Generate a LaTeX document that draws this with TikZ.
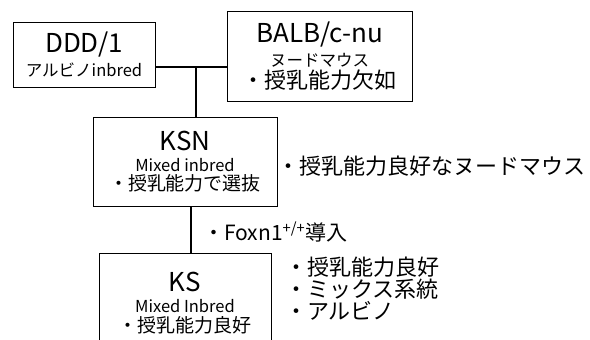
\documentclass[tikz,border=0pt]{standalone}
\usepackage{fontspec}
\setmainfont{Noto Sans CJK JP}
\usetikzlibrary{positioning}
\tikzstyle{block} = [rectangle, draw, line width=0.8pt, align=center, inner sep=0pt]
\tikzstyle{line} = [draw, line width=1.8pt]
\tikzstyle{note} = [anchor=west, inner sep=0pt, align=left]
\newcommand{\strainname}[1]{{\fontsize{26}{28}\selectfont #1}}
\newcommand{\straininfo}[1]{{\fontsize{16.5}{19}\selectfont #1}}

\begin{document}
\begin{tikzpicture}[x=1pt, y=-1pt]
    \useasboundingbox (0,0) rectangle (590,340);
    % Place nodes
    \node [block, minimum width=142pt, minimum height=65pt] (ddd) at (84,54.5)
        {\strainname{DDD/1}\\[5pt] \straininfo{アルビノinbred}};
    \node [block, minimum width=185pt, minimum height=90pt] (balb) at (319.5,56)
        {\strainname{BALB/c-nu}\\[5pt] \straininfo{ヌードマウス}\\[2pt] {\fontsize{22}{24}\selectfont ・授乳能力欠如}};
    \node [block, minimum width=184pt, minimum height=89pt] (ksn) at (185,161.5)
        {\strainname{KSN}\\[6pt] \straininfo{Mixed inbred}\\[2pt] {\fontsize{19}{21}\selectfont ・授乳能力で選抜}};
    \node [block, minimum width=172pt, minimum height=100pt] (ks) at (185,303)
        {\strainname{KS}\\[7pt] \straininfo{Mixed Inbred}\\[3pt] {\fontsize{19}{21}\selectfont ・授乳能力良好}};
    \coordinate (cross) at (196,67);

    \node [note, font=\fontsize{22}{24}\selectfont] (good) at (277,166) {・授乳能力良好なヌードマウス};
    \node [note, font=\fontsize{21}{23}\selectfont] (foxn) at (203,232) {・Foxn1\textsuperscript{+/+}導入};
    \node [note, font=\fontsize{22}{22}\selectfont] (traits) at (285,289)
        {・授乳能力良好\\ ・ミックス系統\\ ・アルビノ};

    % Draw edges
    \path [line] (ddd.east |- cross) -- (balb.west |- cross);
    \path [line] (cross) -- (cross |- ksn.north);
    \path [line] ([xshift=6pt]ksn.south) -- ([xshift=6pt]ks.north);
\end{tikzpicture}
\end{document}
